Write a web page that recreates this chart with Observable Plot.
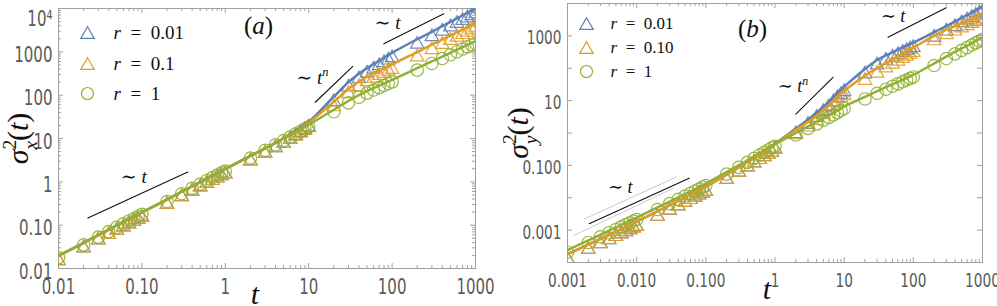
<!DOCTYPE html>
<html><head><meta charset="utf-8">
<script src="https://cdn.jsdelivr.net/npm/d3@7"></script>
<script src="https://cdn.jsdelivr.net/npm/@observablehq/plot@0.6"></script>
<style>
body{margin:0;background:#fff;}
#wrap{display:flex;width:997px;height:306px;overflow:hidden;}
#wrap svg{display:block;overflow:visible;}
</style></head><body><div id="wrap"></div>
<script>
// ---------- Panel (a): sigma_x^2(t) ----------
const tA = [0.01,0.02,0.03,0.04,0.05,0.06,0.07,0.08,0.09,
  0.1,0.2,0.3,0.4,0.5,0.6,0.7,0.8,0.9,
  1,2,3,4,5,6,7,8,9,
  10,20,30,40,50,60,70,80,90,
  100,200,300,400,500,600,700,800,900,1000];
const blueA = [0.0198,0.039,0.059,0.079,0.099,0.119,0.139,0.159,0.179,
  0.198,0.39,0.59,0.79,0.99,1.19,1.39,1.59,1.79,
  1.98,3.95,5.95,7.95,10.0,12.6,15.2,17.9,20.8,
  24,92,200,310,420,520,620,730,840,
  950,1950,2900,3900,4900,5900,6900,7900,8900,9800];
const orangeA = [0.0198,0.039,0.059,0.079,0.099,0.119,0.139,0.159,0.179,
  0.198,0.39,0.59,0.79,0.99,1.19,1.39,1.59,1.79,
  1.98,3.95,5.95,7.95,10.0,12.3,14.7,17.2,20.0,
  23,70,140,205,265,320,370,420,465,
  510,990,1460,1920,2380,2820,3260,3700,4150,4600];
const greenA = [0.0198,0.039,0.059,0.079,0.099,0.119,0.139,0.159,0.179,
  0.198,0.39,0.59,0.79,0.99,1.19,1.39,1.59,1.79,
  1.98,3.95,5.95,7.95,10.0,12.0,14.2,16.4,18.6,
  20.8,46,74,100,124,146,166,186,206,
  225,420,600,780,950,1120,1290,1450,1600,1760];

// ---------- Panel (b): sigma_y^2(t) ----------
const tB = [0.001,0.002,0.003,0.004,0.005,0.006,0.007,0.008,0.009,
  0.01,0.02,0.03,0.04,0.05,0.06,0.07,0.08,0.09,
  0.1,0.2,0.3,0.4,0.5,0.6,0.7,0.8,0.9,
  1,2,3,4,5,6,7,8,9,
  10,20,30,40,50,60,70,80,90,
  100,200,300,400,500,600,700,800,900,1000];
const blueB = [1.8e-4,3.6e-4,5.4e-4,7.2e-4,9.0e-4,1.08e-3,1.27e-3,1.46e-3,1.65e-3,
  1.85e-3,3.8e-3,5.9e-3,8.0e-3,0.0102,0.0125,0.0148,0.0172,0.0197,
  0.0222,0.052,0.087,0.127,0.17,0.215,0.262,0.31,0.36,
  0.46,1.35,2.6,4.3,6.5,9.3,13,17.5,22,
  27,95,180,250,310,375,440,500,560,
  620,1300,2000,2750,3600,4400,5300,6200,7100,8000];
const orangeB = [1.8e-4,3.6e-4,5.4e-4,7.2e-4,9.0e-4,1.08e-3,1.27e-3,1.46e-3,1.65e-3,
  1.85e-3,3.8e-3,5.9e-3,8.0e-3,0.0102,0.0125,0.0148,0.0172,0.0197,
  0.0222,0.052,0.087,0.127,0.17,0.215,0.262,0.31,0.36,
  0.45,1.25,2.2,3.4,5.2,7.2,9.8,13,17,
  20,60,100,145,190,235,285,335,385,
  435,1000,1550,2000,2500,2950,3450,3900,4350,4800];
const greenB = [2.4e-4,4.8e-4,7.2e-4,9.6e-4,1.2e-3,1.45e-3,1.7e-3,1.95e-3,2.2e-3,
  2.45e-3,5.0e-3,7.6e-3,0.0103,0.013,0.0158,0.0186,0.0215,0.0245,
  0.0275,0.062,0.1,0.143,0.19,0.24,0.29,0.345,0.4,
  0.45,1.0,1.6,2.2,2.85,3.5,4.2,4.9,5.7,
  6.6,13,19.5,26,32,38,44,50,56,
  62,140,230,320,410,500,600,700,800,890];

// ---------- legend / tick labels ----------
const legendA = ["0.01","0.1","1"];
const legendB = ["0.01","0.10","1"];
const seriesSymbols = ["triangle","triangle","circle"];
const seriesColors = ["#5e81b5","#e19c24","#8fb032"];

const xTickValsA = [0.01,0.1,1,10,100,1000];
const xTickTextA = ["0.01","0.10","1","10","100","1000"];
const yTickValsA = [0.01,0.1,1,10,100,1000];
const yTickTextA = ["0.01","0.10","1","10","100","1000"];
const yTopTickA = [10000];
const yTopTextA = ["10\u2074"];

const xTickValsB = [0.001,0.01,0.1,1,10,100,1000];
const xTickTextB = ["0.001","0.010","0.100","1","10","100","1000"];
const yTickValsB = [0.001,0.1,10,1000];
const yTickTextB = ["0.001","0.100","10","1000"];
const yMajorB = [1e-4,1e-3,1e-2,1e-1,1,10,100,1000,1e4];

// ---------- guide lines (scaling laws) in data units ----------
const guideTA = [[0.0225,0.355],[12,33.8],[79.5,417]];
const guideVA = [[0.147,1.69],[68.6,464],[1530,7550]];
const guideLabelA = ["\u223C *t*","\u223C *t^n*","\u223C *t*"];
const guideLabelTA = [0.08,11.1,88];
const guideLabelVA = [1.32,255,4620];

const guideTB = [[0.00206,0.0574],[2.0,6.9],[43,299]];
const guideVB = [[1.58e-3,0.0402],[3.85,52],[906,7360]];
const faintTB = [[0.00176,0.0376],[0.00125,0.0337]];
const faintVB = [[2.2e-3,0.044],[6.9e-4,0.0197]];
const guideLabelB = ["\u223C *t*","\u223C *t^n*","\u223C *t*"];
const guideLabelTB = [0.0058,1.82,50.7];
const guideLabelVB = [0.0216,27,3960];

// ---------- helpers ----------
const SERIF = "'Liberation Serif','DejaVu Serif',serif";
const NARROW = "'Liberation Sans Narrow','DejaVu Sans Condensed','Roboto Condensed','Liberation Sans',sans-serif";
const FRAME = "#a0a0a0";
const LABEL = "#5a5a5a";

function rowsOf(ts, vs) { return ts.map((t, i) => ({t, v: vs[i]})); }
function segRows(ts, vs) {
  return ts.flatMap((pair, k) => pair.map((t, j) => ({id: k, t, v: vs[k][j]})));
}
function minorTicks(lo, hi) {
  const out = [];
  for (let e = Math.round(Math.log10(lo)); e < Math.round(Math.log10(hi)); e++)
    for (let m = 2; m <= 9; m++) out.push(m * Math.pow(10, e));
  return out;
}
function decades(lo, hi) {
  const out = [];
  for (let e = Math.round(Math.log10(lo)); e <= Math.round(Math.log10(hi)); e++) out.push(Math.pow(10, e));
  return out;
}

function panel(cfg) {
  const H = 306;
  const fw = cfg.width - cfg.ml - cfg.mr, fh = H - cfg.mt - cfg.mb;
  const series = [rowsOf(cfg.t, cfg.blue), rowsOf(cfg.t, cfg.orange), rowsOf(cfg.t, cfg.green)];
  const marks = [];
  const xMaj = decades(cfg.xd[0], cfg.xd[1]), xMin = minorTicks(cfg.xd[0], cfg.xd[1]);
  const yMaj = cfg.yMajor, yMin = cfg.yMinor;
  for (const [vals, len] of [[xMaj, 5], [xMin, 3]]) {
    marks.push(Plot.tickX(vals, {x: d => d, insetTop: fh - len, stroke: FRAME}));
    marks.push(Plot.tickX(vals, {x: d => d, insetBottom: fh - len, stroke: FRAME}));
  }
  for (const [vals, len] of [[yMaj, 5], [yMin, 3]]) {
    marks.push(Plot.tickY(vals, {y: d => d, insetRight: fw - len, stroke: FRAME}));
    marks.push(Plot.tickY(vals, {y: d => d, insetLeft: fw - len, stroke: FRAME}));
  }
  marks.push(Plot.frame({stroke: FRAME, strokeWidth: 1}));
  marks.push(Plot.axisX({ticks: cfg.xTickVals, tickFormat: d => cfg.xTickText[cfg.xTickVals.indexOf(d)],
    tickSize: 0, tickPadding: 10, fontSize: cfg.fs, color: LABEL, label: null}));
  marks.push(Plot.axisY({ticks: cfg.yTickVals, tickFormat: d => cfg.yTickText[cfg.yTickVals.indexOf(d)],
    tickSize: 0, tickPadding: cfg.ypad, dy: cfg.ydy, fontSize: cfg.fs, color: LABEL, label: null}));
  if (cfg.yTop) {
    // top label sits a little lower, as in the original
    marks.push(Plot.axisY({ticks: cfg.yTop, tickFormat: d => cfg.yTopText[cfg.yTop.indexOf(d)],
      tickSize: 0, tickPadding: cfg.ypad, dy: 10, fontSize: cfg.fs, color: LABEL, label: null}));
  }
  if (cfg.faint) marks.push(Plot.line(cfg.faint, {x: "t", y: "v", z: "id", stroke: "#c4c4c4", strokeWidth: 0.9}));
  marks.push(Plot.line(cfg.guides, {x: "t", y: "v", z: "id", stroke: "#111", strokeWidth: 1.1}));
  marks.push(Plot.text(cfg.guideLabels, {x: "t", y: "v", text: "s", fontFamily: SERIF, fontSize: cfg.gfs,
    textAnchor: "middle", fill: "#111", className: "rich"}));
  series.forEach((rows, k) => {
    const tri = seriesSymbols[k] === "triangle";
    marks.push(Plot.dot(rows, {x: "t", y: "v", symbol: seriesSymbols[k], r: tri ? 5 : 6.2,
      stroke: seriesColors[k], strokeWidth: 1.2, strokeOpacity: 0.9, fill: "none", dy: tri ? 5 : 2, clip: true}));
  });
  series.forEach((rows, k) => {
    marks.push(Plot.line(rows, {x: "t", y: "v", stroke: seriesColors[k], strokeWidth: 2.5,
      curve: "catmull-rom", clip: true}));
  });
  cfg.legend.forEach((lab, k) => {
    const tri = seriesSymbols[k] === "triangle";
    marks.push(Plot.dot([lab], {frameAnchor: "top-left", dx: cfg.lgx, dy: cfg.lgy[k] + (tri ? 2 : 0),
      symbol: seriesSymbols[k], r: tri ? 5 : 6, stroke: seriesColors[k], strokeWidth: 1.2, fill: "none"}));
    marks.push(Plot.text(["*r*\u2002=\u2002" + lab], {frameAnchor: "top-left", dx: cfg.lgtx, dy: cfg.lgy[k],
      text: d => d, textAnchor: "start", lineAnchor: "middle", fontFamily: SERIF, fontSize: cfg.lfs, fill: "#111", className: "rich"}));
  });
  marks.push(Plot.text([cfg.tag], {frameAnchor: "top-left", dx: cfg.tagx, dy: cfg.tagy, text: d => d,
    lineAnchor: "middle", textAnchor: "middle", fontFamily: SERIF, fontSize: 25, fill: "#111", className: "rich"}));
  marks.push(Plot.text(["*t*"], {frameAnchor: "bottom", dx: cfg.tdx, dy: cfg.tdy, text: d => d,
    lineAnchor: "middle", fontFamily: SERIF, fontSize: 30, fill: "#111", className: "rich"}));
  marks.push(Plot.text([cfg.ylab], {frameAnchor: "left", dx: cfg.sdx, text: d => d, rotate: -90,
    lineAnchor: "middle", textAnchor: "middle", fontFamily: SERIF, fontSize: 30, fill: "#111", className: "rich"}));

  return Plot.plot({
    width: cfg.width, height: H,
    marginLeft: cfg.ml, marginRight: cfg.mr, marginTop: cfg.mt, marginBottom: cfg.mb,
    x: {type: "log", domain: cfg.xd},
    y: {type: "log", domain: cfg.yd},
    style: {fontFamily: NARROW, background: "white", overflow: "visible"},
    marks
  });
}

function richify(svg) {
  d3.select(svg).selectAll("g.rich text").each(function() {
    const f = parseFloat(getComputedStyle(this).fontSize) || 16;
    const s = this.textContent;
    const el = d3.select(this);
    el.text(null);
    let italic = false, shift = 0, prev = "n";
    for (let i = 0; i < s.length; i++) {
      let c = s[i];
      if (c === "*") { italic = !italic; continue; }
      let kind = "n";
      if (c === "^" || c === "_") { kind = c; c = s[++i]; }
      const target = kind === "^" ? -0.42 * f : kind === "_" ? 0.3 * f : 0;
      const ts = el.append("tspan").text(c).attr("font-style", italic ? "italic" : "normal");
      if (target !== shift) ts.attr("dy", target - shift);
      if (kind !== "n") ts.attr("font-size", 0.66 * f);
      if (kind === "_" && prev === "^") ts.attr("dx", -0.34 * f);
      shift = target; prev = kind;
    }
  });
}
function condense(svg, k) {
  d3.select(svg).selectAll('g[aria-label="x-axis tick label"] text, g[aria-label="y-axis tick label"] text')
    .each(function() {
      const tr = this.getAttribute("transform") || "";
      this.setAttribute("transform", tr + ` scale(${k},1)`);
    });
}

const mk = (ts, vs, labs) => labs.map((s, i) => ({s, t: ts[i], v: vs[i]}));

const svgA = panel({
  width: 497, ml: 58, mr: 22, mt: 8, mb: 38,
  xd: [0.01, 1000], yd: [0.01, 10000],
  t: tA, blue: blueA, orange: orangeA, green: greenA,
  yMajor: decades(0.01, 10000), yMinor: minorTicks(0.01, 10000),
  xTickVals: xTickValsA, xTickText: xTickTextA, yTickVals: yTickValsA, yTickText: yTickTextA,
  yTop: yTopTickA, yTopText: yTopTextA,
  fs: 22, ypad: 6, ydy: 3,
  guides: segRows(guideTA, guideVA), faint: null,
  guideLabels: mk(guideLabelTA, guideLabelVA, guideLabelA), gfs: 19,
  legend: legendA, lgx: 29, lgy: [24, 55, 85], lgtx: 55, lfs: 19,
  tag: "(*a*)", tagx: 200, tagy: 17,
  tdx: -12, tdy: 26, ylab: "*σ*^2*_x*(*t*)", sdx: -40
});
const svgB = panel({
  width: 500, ml: 70, mr: 15, mt: 3, mb: 44,
  xd: [0.001, 1000], yd: [1e-4, 1e4],
  t: tB, blue: blueB, orange: orangeB, green: greenB,
  yMajor: yMajorB, yMinor: [],
  xTickVals: xTickValsB, xTickText: xTickTextB, yTickVals: yTickValsB, yTickText: yTickTextB,
  yTop: null,
  fs: 20, ypad: 6, ydy: 2,
  guides: segRows(guideTB, guideVB), faint: segRows(faintTB, faintVB),
  guideLabels: mk(guideLabelTB, guideLabelVB, guideLabelB), gfs: 18,
  legend: legendB, lgx: 19, lgy: [20, 44, 68], lgtx: 43, lfs: 17,
  tag: "(*b*)", tagx: 185, tagy: 25,
  tdx: -8, tdy: 27, ylab: "*σ*^2*_y*(*t*)", sdx: -49
});
const wrap = document.getElementById("wrap");
wrap.appendChild(svgA);
wrap.appendChild(svgB);
richify(svgA);
richify(svgB);
condense(svgA, 0.76);
condense(svgB, 0.76);
</script>
</body></html>
